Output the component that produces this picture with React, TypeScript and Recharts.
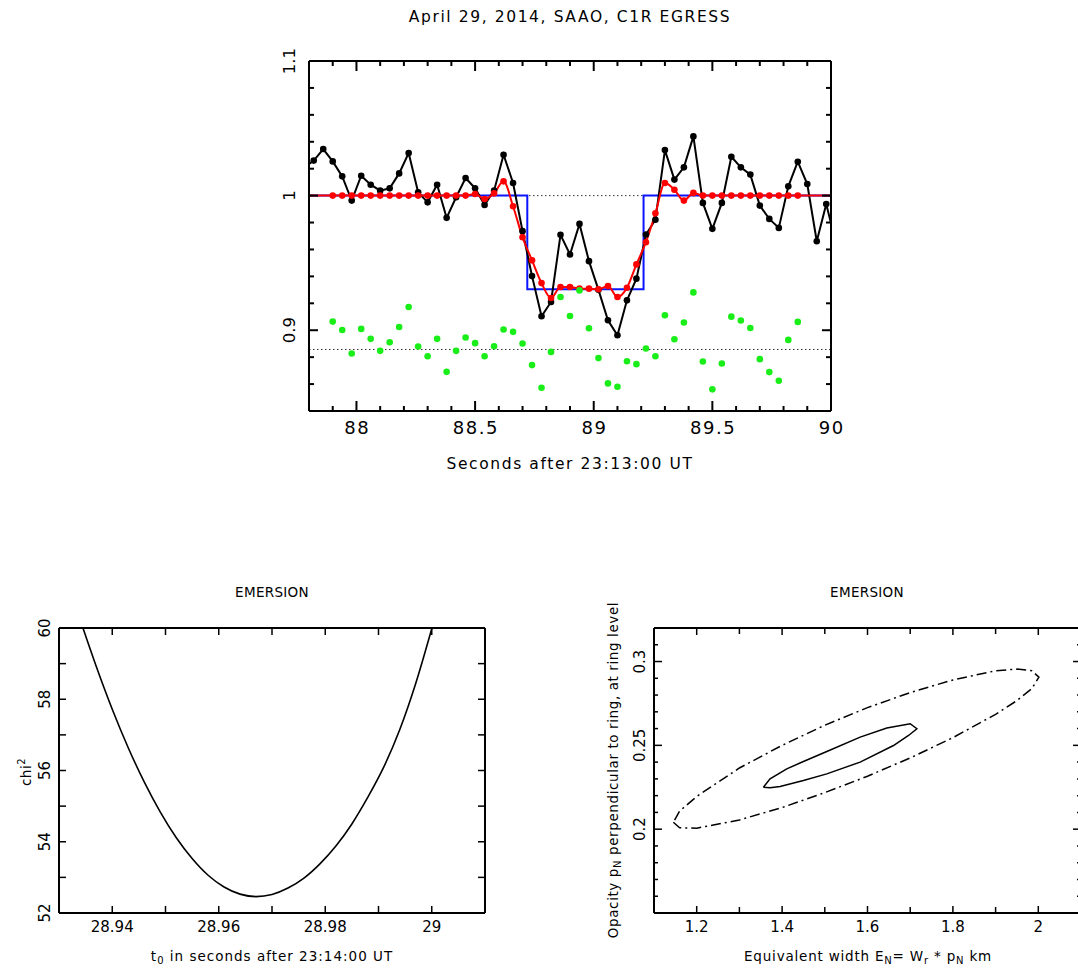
import React from "react";
import { ComposedChart, Line, Scatter, XAxis, YAxis, ReferenceLine } from "recharts";

const FONT = "'DejaVu Sans', Verdana, sans-serif";
const AXIS = { stroke: "#000", strokeWidth: 2 };

// ---- top panel: light curve (seconds after 23:13:00 UT) ----
const times = [
  87.78, 87.82, 87.86, 87.9, 87.94, 87.98, 88.02, 88.06, 88.1, 88.14, 88.18, 88.22, 88.26, 88.3, 88.34,
  88.38, 88.42, 88.46, 88.5, 88.54, 88.58, 88.62, 88.66, 88.7, 88.74, 88.78, 88.82, 88.86, 88.9, 88.94,
  88.98, 89.02, 89.06, 89.1, 89.14, 89.18, 89.22, 89.26, 89.3, 89.34, 89.38, 89.42, 89.46, 89.5, 89.54,
  89.58, 89.62, 89.66, 89.7, 89.74, 89.78, 89.82, 89.86, 89.9, 89.94, 89.98, 90.02,
];
const flux = [
  1.021, 1.026, 1.0346, 1.0254, 1.0143, 0.9963, 1.0148, 1.0081, 1.0037, 1.0054, 1.0165, 1.0316, 1.0025,
  0.995, 1.0081, 0.9835, 0.9988, 1.0131, 1.0055, 0.9931, 1.0037, 1.0304, 1.0094, 0.9736, 0.9402, 0.9104,
  0.921, 0.9709, 0.9563, 0.979, 0.9513, 0.93, 0.9074, 0.8963, 0.9222, 0.9383, 0.9711, 0.9821, 1.0338,
  1.0119, 1.021, 1.044, 0.9946, 0.9753, 0.9946, 1.0289, 1.021, 1.0156, 0.9926, 0.9827, 0.976, 1.0069,
  1.0252, 1.0086, 0.9661, 0.9938, 0.965,
];
const model = [
  1, 1, 1, 1, 1, 1, 1, 1, 1, 1, 1, 1, 1, 1, 1, 1, 1, 1, 1.0012, 0.9975, 1.0017, 1.0106, 0.9921, 0.9691,
  0.9519, 0.935, 0.9239, 0.9321, 0.9321, 0.9309, 0.9309, 0.9304, 0.9328, 0.9247, 0.9316, 0.9489, 0.9654,
  0.9869, 1.0094, 1.0044, 0.9963, 1.002, 1, 1, 1, 1, 1, 1, 1, 1, 1, 1, 1, 1, 1, 1, 1,
];
// residuals (shifted), for the points 87.90 .. 89.86
const resid = [
  0.9064, 0.9002, 0.8827, 0.901, 0.8936, 0.8847, 0.8911, 0.9024, 0.9173, 0.8879, 0.8807, 0.8936, 0.8691,
  0.8847, 0.8946, 0.8904, 0.8807, 0.8881, 0.9005, 0.8988, 0.8901, 0.8741, 0.8573, 0.8839, 0.9247, 0.9106,
  0.9296, 0.9015, 0.8793, 0.8605, 0.858, 0.877, 0.8748, 0.8864, 0.8807, 0.9111, 0.8933, 0.9057, 0.9281,
  0.8768, 0.8561, 0.8753, 0.9101, 0.9072, 0.9017, 0.8785, 0.8689, 0.8625, 0.8928, 0.9062,
];
const residLevel = 0.8857;
const wellT = [87.78, 88.72, 88.72, 89.21, 89.21, 90.02];
const wellV = [1, 1, 0.9304, 0.9304, 1, 1];

const topXTicks = [87.9, 88, 88.1, 88.2, 88.3, 88.4, 88.5, 88.6, 88.7, 88.8, 88.9, 89, 89.1, 89.2, 89.3, 89.4, 89.5, 89.6, 89.7, 89.8, 89.9, 90];
const topXLabels = [88, 88.5, 89, 89.5, 90];
const topYTicks = [0.86, 0.88, 0.9, 0.92, 0.94, 0.96, 0.98, 1, 1.02, 1.04, 1.06, 1.08, 1.1];
const topYLabels = [0.9, 1, 1.1];

// ---- bottom left: chi2 vs t0 ----
const chiT = [
  28.9345, 28.937, 28.94, 28.943, 28.946, 28.949, 28.952, 28.955, 28.958, 28.961, 28.964, 28.967,
  28.97, 28.973, 28.976, 28.979, 28.982, 28.985, 28.988, 28.991, 28.994, 28.997, 29.0,
];
const chiV = [
  60.0, 58.92, 57.72, 56.64, 55.68, 54.84, 54.12, 53.53, 53.06, 52.73, 52.53, 52.46,
  52.52, 52.7, 52.98, 53.38, 53.88, 54.5, 55.25, 56.1, 57.15, 58.45, 59.98,
];
const chiXTicks = [28.94, 28.95, 28.96, 28.97, 28.98, 28.99, 29];
const chiXLabels = [28.94, 28.96, 28.98, 29];
const chiYTicks = [52, 53, 54, 55, 56, 57, 58, 59, 60];
const chiYLabels = [52, 54, 56, 58, 60];

// ---- bottom right: confidence contours ----
const outerW = [1.1453, 1.16, 1.2, 1.3, 1.4, 1.5, 1.6, 1.7, 1.8, 1.9, 1.95, 1.985, 2.0014, 1.985, 1.95, 1.9, 1.8, 1.7, 1.6, 1.5, 1.4, 1.3, 1.2, 1.16, 1.1453];
const outerP = [0.2041, 0.2008, 0.2006, 0.2055, 0.2129, 0.2218, 0.2316, 0.2425, 0.2546, 0.2685, 0.2767, 0.2839, 0.2907, 0.2945, 0.2955, 0.2945, 0.289, 0.2815, 0.2725, 0.262, 0.25, 0.2365, 0.2195, 0.2108, 0.2041];
const innerW = [1.3562, 1.3718, 1.411, 1.4499, 1.5047, 1.5828, 1.6453, 1.7, 1.7156, 1.6961, 1.6608, 1.5828, 1.5047, 1.4499, 1.3953, 1.3718, 1.3562];
const innerP = [0.225, 0.23, 0.236, 0.2404, 0.2463, 0.2549, 0.2603, 0.2629, 0.2599, 0.2559, 0.2499, 0.24, 0.233, 0.229, 0.2254, 0.2247, 0.225];
const ewXTicks = [1.2, 1.3, 1.4, 1.5, 1.6, 1.7, 1.8, 1.9, 2];
const ewXLabels = [1.2, 1.4, 1.6, 1.8, 2];
const opYTicks = [0.16, 0.17, 0.18, 0.19, 0.2, 0.21, 0.22, 0.23, 0.24, 0.25, 0.26, 0.27, 0.28, 0.29, 0.3, 0.31];
const opYLabels = [0.2, 0.25, 0.3];

const lcData = times.map((t, i) => ({ t, flux: flux[i], model: model[i] }));
const modelDots = times.slice(3, 53).map((t, i) => ({ t, m: model[i + 3] }));
const residData = times.slice(3, 53).map((t, i) => ({ t, r: resid[i] }));
const wellData = wellT.map((t, i) => ({ t, v: wellV[i] }));
const chiData = chiT.map((t, i) => ({ t, c: chiV[i] }));
const outerData = outerW.map((w, i) => ({ w, p: outerP[i] }));
const innerData = innerW.map((w, i) => ({ w, p: innerP[i] }));

const same = (a: number, b: number) => Math.abs(a - b) < 1e-9;

// inward PGPLOT-style ticks, drawn from the axis line position Recharts hands us
function ticker(
  side: "bottom" | "top" | "left" | "right",
  longSet: number[],
  labelSet: number[],
  longLen: number,
  shortLen: number,
  fontSize: number,
  gap: number,
  sw: number,
  ls = 0
) {
  return (props: any) => {
    const { x, y, payload } = props;
    const v = Number(payload.value);
    const len = longSet.some((m) => same(m, v)) ? longLen : shortLen;
    const show = labelSet.some((m) => same(m, v));
    let l = { x1: x, y1: y, x2: x, y2: y };
    if (side === "bottom") l.y2 = y - len;
    else if (side === "top") l.y2 = y + len;
    else if (side === "left") l.x2 = x + len;
    else l.x2 = x - len;
    let label = null;
    if (show && side === "bottom")
      label = (
        <text x={x + ls / 2} y={y + gap} textAnchor="middle" fontSize={fontSize} fontFamily={FONT} letterSpacing={ls} fill="#000">
          {String(v)}
        </text>
      );
    if (show && side === "left")
      label = (
        <text transform={`translate(${x - gap},${y}) rotate(-90)`} textAnchor="middle" fontSize={fontSize} fontFamily={FONT} fill="#000">
          {String(v)}
        </text>
      );
    return (
      <g>
        <line {...l} stroke="#000" strokeWidth={sw} />
        {label}
      </g>
    );
  };
}

const redDot = (p: any) => <circle cx={p.cx} cy={p.cy} r={3.3} fill="#ff0000" />;
const greenDot = (p: any) => <circle cx={p.cx} cy={p.cy} r={3.3} fill="#19ee19" />;

const txt = (cx: number, cy: number, size: number, ls: number, rotate = false): React.CSSProperties => ({
  position: "absolute",
  left: cx,
  top: cy,
  transform: `translate(-50%,-50%)${rotate ? " rotate(-90deg)" : ""}`,
  whiteSpace: "nowrap",
  lineHeight: 1,
  fontSize: size,
  letterSpacing: ls,
  fontFamily: FONT,
  color: "#000",
});

const axisCommon = { tickLine: false, tickSize: 0, tickMargin: 0, interval: 0 as const, axisLine: AXIS, allowDataOverflow: true };

export default function App() {
  return (
    <div style={{ position: "absolute", left: 0, top: 0, width: 1078, height: 972, overflow: "hidden", background: "#fff" }}>
      <div style={txt(570, 18, 15.5, 1.6)}>April 29, 2014, SAAO, C1R EGRESS</div>
      <div style={{ position: "absolute", left: 0, top: 0 }}>
        <ComposedChart width={1078} height={450} margin={{ top: 51, right: 237, bottom: 9, left: 269 }}>
          <XAxis xAxisId="b" dataKey="t" type="number" domain={[87.8, 90]} ticks={topXTicks} height={30} {...axisCommon}
            tick={ticker("bottom", topXLabels, topXLabels, 10, 5, 18, 22.5, 2, 1.5)} />
          <XAxis xAxisId="t" orientation="top" dataKey="t" type="number" domain={[87.8, 90]} ticks={topXTicks} height={10} {...axisCommon}
            tick={ticker("top", topXLabels, [], 10, 5, 18, 0, 2)} />
          <YAxis yAxisId="l" type="number" domain={[0.84, 1.1]} ticks={topYTicks} width={40} {...axisCommon}
            tick={ticker("left", topYLabels, topYLabels, 9, 5, 16.5, 14, 2)} />
          <YAxis yAxisId="r" orientation="right" type="number" domain={[0.84, 1.1]} ticks={topYTicks} width={10} {...axisCommon}
            tick={ticker("right", topYLabels, [], 9, 5, 16, 0, 2)} />
          <ReferenceLine xAxisId="b" yAxisId="l" y={1} stroke="#333" strokeDasharray="1.5 2.5" />
          <ReferenceLine xAxisId="b" yAxisId="l" y={residLevel} stroke="#333" strokeDasharray="1.5 2.5" />
          <Line xAxisId="b" yAxisId="l" data={wellData} dataKey="v" type="linear" stroke="#0a14ff" strokeWidth={2} dot={false} isAnimationActive={false} />
          <Line xAxisId="b" yAxisId="l" data={lcData} dataKey="flux" type="linear" stroke="#000" strokeWidth={2}
            dot={{ r: 3.3, fill: "#000", stroke: "none" }} isAnimationActive={false} />
          <Line xAxisId="b" yAxisId="l" data={lcData} dataKey="model" type="monotone" stroke="#ff0000" strokeWidth={2} dot={false} isAnimationActive={false} />
          <Scatter xAxisId="b" yAxisId="l" data={modelDots} dataKey="m" shape={redDot} isAnimationActive={false} />
          <Scatter xAxisId="b" yAxisId="l" data={residData} dataKey="r" shape={greenDot} isAnimationActive={false} />
        </ComposedChart>
      </div>
      <div style={txt(570, 465, 15.5, 1.6)}>Seconds after 23:13:00 UT</div>

      {/* bottom left */}
      <div style={txt(272, 593, 13.5, 0.3)}>EMERSION</div>
      <div style={{ position: "absolute", left: 0, top: 560 }}>
        <ComposedChart width={540} height={400} margin={{ top: 58, right: 45, bottom: 17, left: 19 }}>
          <XAxis xAxisId="b" dataKey="t" type="number" domain={[28.93, 29.01]} ticks={chiXTicks} height={30} {...axisCommon}
            tick={ticker("bottom", chiXTicks, chiXLabels, 7, 7, 15, 19, 1.5)} />
          <XAxis xAxisId="t" orientation="top" dataKey="t" type="number" domain={[28.93, 29.01]} ticks={chiXTicks} height={10} {...axisCommon}
            tick={ticker("top", chiXTicks, [], 7, 7, 15, 0, 1.5)} />
          <YAxis yAxisId="l" type="number" domain={[52, 60]} ticks={chiYTicks} width={40} {...axisCommon}
            tick={ticker("left", chiYTicks, chiYLabels, 7, 7, 15, 9.5, 1.5)} />
          <YAxis yAxisId="r" orientation="right" type="number" domain={[52, 60]} ticks={chiYTicks} width={10} {...axisCommon}
            tick={ticker("right", chiYTicks, [], 7, 7, 15, 0, 1.5)} />
          <Line xAxisId="b" yAxisId="l" data={chiData} dataKey="c" type="monotone" stroke="#000" strokeWidth={1.6} dot={false} isAnimationActive={false} />
        </ComposedChart>
      </div>
      <div style={txt(25, 772, 13.5, 0.5, true)}>
        chi<sup style={{ fontSize: 10 }}>2</sup>
      </div>
      <div style={txt(272, 958, 13.5, 1)}>
        t<sub style={{ fontSize: 10 }}>0</sub> in seconds after 23:14:00 UT
      </div>

      {/* bottom right */}
      <div style={txt(867, 593, 13.5, 0.3)}>EMERSION</div>
      <div style={{ position: "absolute", left: 560, top: 560 }}>
        <ComposedChart width={540} height={400} margin={{ top: 58, right: 9, bottom: 17, left: 54 }}>
          <XAxis xAxisId="b" dataKey="w" type="number" domain={[1.1, 2.1]} ticks={ewXTicks} height={30} {...axisCommon}
            tick={ticker("bottom", ewXLabels, ewXLabels, 7, 6, 15, 19, 1.5)} />
          <XAxis xAxisId="t" orientation="top" dataKey="w" type="number" domain={[1.1, 2.1]} ticks={ewXTicks} height={10} {...axisCommon}
            tick={ticker("top", ewXLabels, [], 7, 6, 15, 0, 1.5)} />
          <YAxis yAxisId="l" type="number" domain={[0.15, 0.32]} ticks={opYTicks} width={40} {...axisCommon}
            tick={ticker("left", opYLabels, opYLabels, 8, 4, 15, 9, 1.5)} />
          <YAxis yAxisId="r" orientation="right" type="number" domain={[0.15, 0.32]} ticks={opYTicks} width={10} {...axisCommon}
            tick={ticker("right", opYLabels, [], 8, 4, 15, 0, 1.5)} />
          <Line xAxisId="b" yAxisId="l" data={outerData} dataKey="p" type="linear" stroke="#000" strokeWidth={1.5}
            strokeDasharray="10 4 2 4" dot={false} isAnimationActive={false} />
          <Line xAxisId="b" yAxisId="l" data={innerData} dataKey="p" type="linear" stroke="#000" strokeWidth={1.5} dot={false} isAnimationActive={false} />
        </ComposedChart>
      </div>
      <div style={txt(615, 770, 13.5, 0.6, true)}>
        Opacity p<sub style={{ fontSize: 10 }}>N</sub> perpendicular to ring, at ring level
      </div>
      <div style={txt(868, 958, 13.5, 0.8)}>
        Equivalent width E<sub style={{ fontSize: 10 }}>N</sub>= W<sub style={{ fontSize: 10 }}>r</sub> * p
        <sub style={{ fontSize: 10 }}>N</sub> km
      </div>
    </div>
  );
}
